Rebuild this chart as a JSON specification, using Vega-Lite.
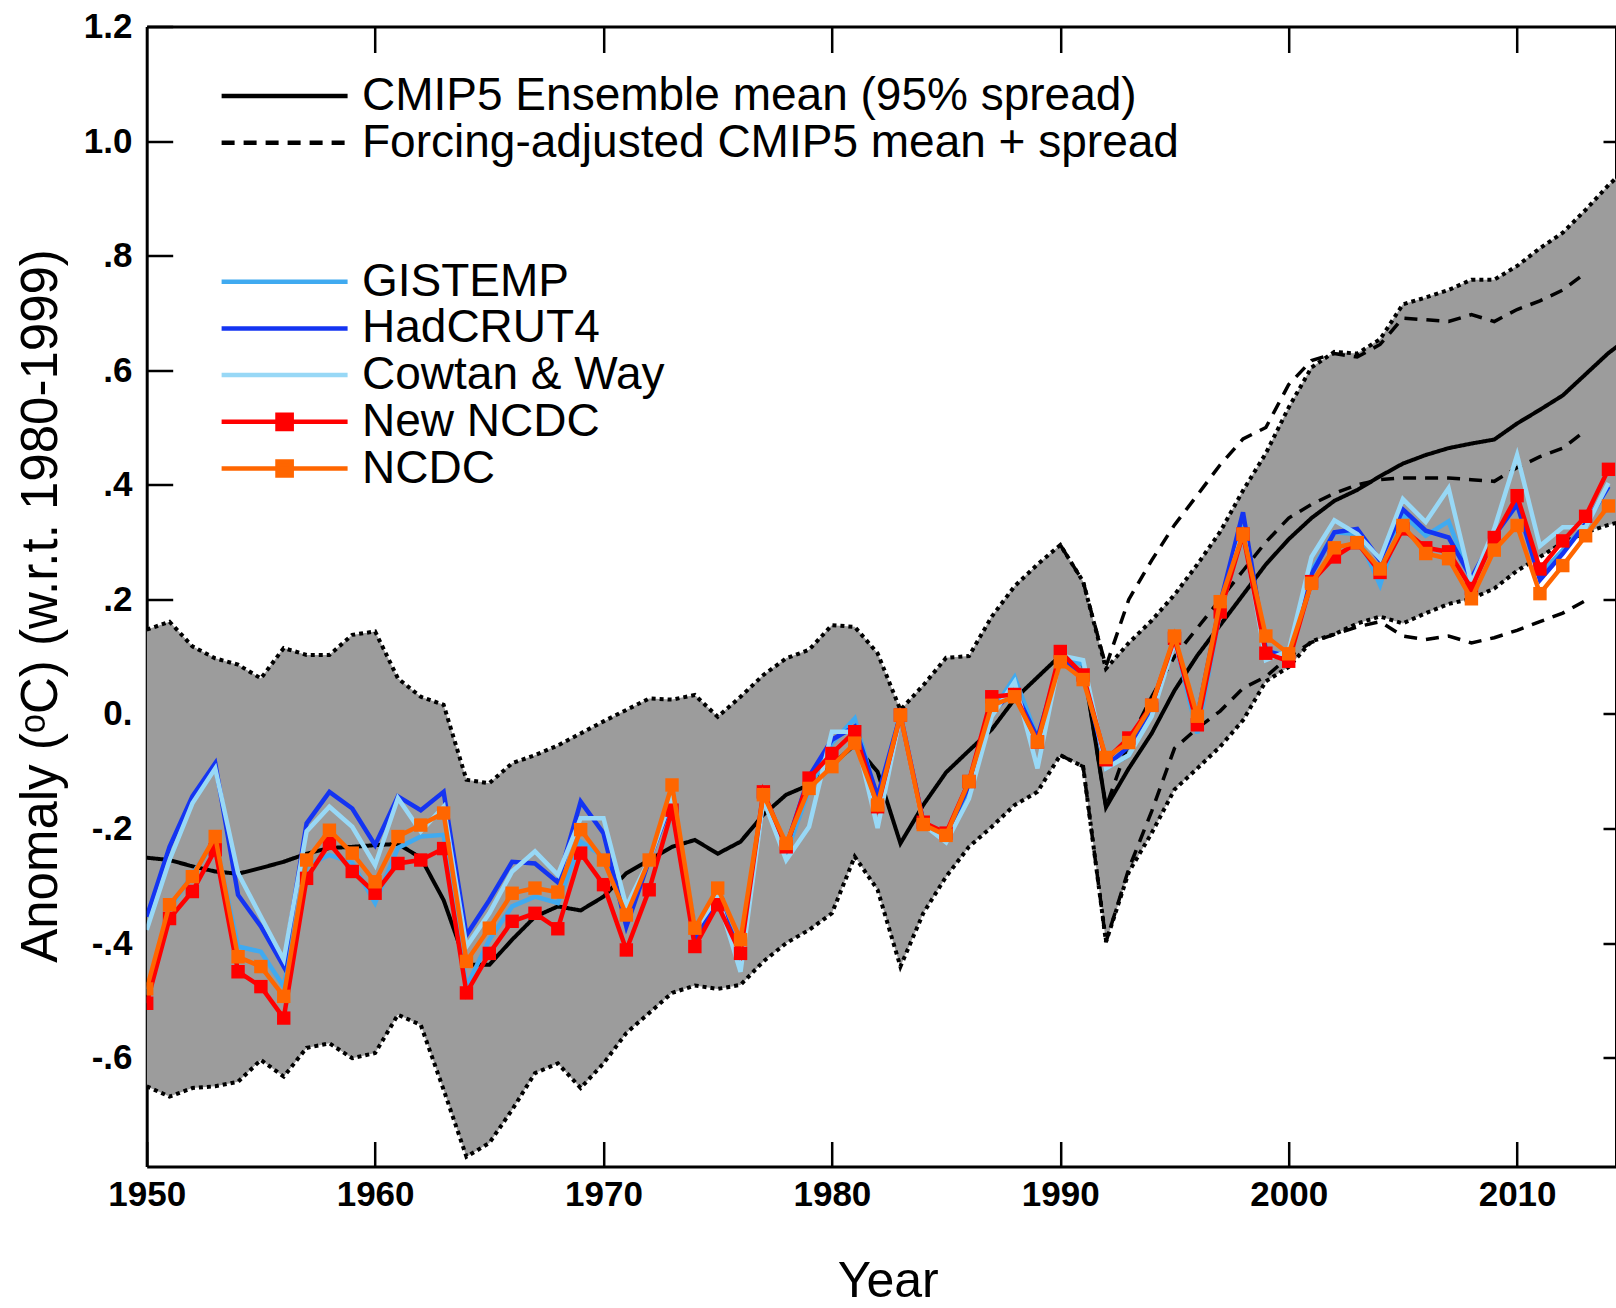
{
  "$schema": "https://vega.github.io/schema/vega-lite/v6.json",
  "autosize": {"type": "none"},
  "padding": {"left": 146.7, "top": 26.5, "right": 0, "bottom": 141.5},
  "width": 1469.3,
  "height": 1140,
  "background": "white",
  "datasets": {
    "model": [
      {"year": 1950, "mean": -0.251, "lo": -0.650, "hi": 0.147},
      {"year": 1951, "mean": -0.255, "lo": -0.668, "hi": 0.161},
      {"year": 1952, "mean": -0.266, "lo": -0.653, "hi": 0.118},
      {"year": 1953, "mean": -0.275, "lo": -0.650, "hi": 0.097},
      {"year": 1954, "mean": -0.279, "lo": -0.642, "hi": 0.086},
      {"year": 1955, "mean": -0.269, "lo": -0.604, "hi": 0.062},
      {"year": 1956, "mean": -0.258, "lo": -0.633, "hi": 0.115},
      {"year": 1957, "mean": -0.244, "lo": -0.583, "hi": 0.103},
      {"year": 1958, "mean": -0.234, "lo": -0.575, "hi": 0.103},
      {"year": 1959, "mean": -0.232, "lo": -0.601, "hi": 0.138},
      {"year": 1960, "mean": -0.229, "lo": -0.592, "hi": 0.144},
      {"year": 1961, "mean": -0.227, "lo": -0.525, "hi": 0.062},
      {"year": 1962, "mean": -0.251, "lo": -0.543, "hi": 0.030},
      {"year": 1963, "mean": -0.325, "lo": -0.656, "hi": 0.016},
      {"year": 1964, "mean": -0.438, "lo": -0.773, "hi": -0.115},
      {"year": 1965, "mean": -0.438, "lo": -0.749, "hi": -0.121},
      {"year": 1966, "mean": -0.394, "lo": -0.691, "hi": -0.086},
      {"year": 1967, "mean": -0.354, "lo": -0.627, "hi": -0.072},
      {"year": 1968, "mean": -0.336, "lo": -0.610, "hi": -0.055},
      {"year": 1969, "mean": -0.343, "lo": -0.653, "hi": -0.034},
      {"year": 1970, "mean": -0.319, "lo": -0.610, "hi": -0.013},
      {"year": 1971, "mean": -0.278, "lo": -0.557, "hi": 0.007},
      {"year": 1972, "mean": -0.255, "lo": -0.522, "hi": 0.027},
      {"year": 1973, "mean": -0.232, "lo": -0.487, "hi": 0.025},
      {"year": 1974, "mean": -0.220, "lo": -0.474, "hi": 0.033},
      {"year": 1975, "mean": -0.244, "lo": -0.480, "hi": -0.005},
      {"year": 1976, "mean": -0.223, "lo": -0.473, "hi": 0.030},
      {"year": 1977, "mean": -0.176, "lo": -0.432, "hi": 0.068},
      {"year": 1978, "mean": -0.141, "lo": -0.400, "hi": 0.097},
      {"year": 1979, "mean": -0.124, "lo": -0.377, "hi": 0.112},
      {"year": 1980, "mean": -0.089, "lo": -0.348, "hi": 0.155},
      {"year": 1981, "mean": -0.054, "lo": -0.249, "hi": 0.152},
      {"year": 1982, "mean": -0.101, "lo": -0.307, "hi": 0.106},
      {"year": 1983, "mean": -0.226, "lo": -0.441, "hi": 0.007},
      {"year": 1984, "mean": -0.159, "lo": -0.348, "hi": 0.050},
      {"year": 1985, "mean": -0.102, "lo": -0.284, "hi": 0.098},
      {"year": 1986, "mean": -0.064, "lo": -0.232, "hi": 0.101},
      {"year": 1987, "mean": -0.027, "lo": -0.197, "hi": 0.170},
      {"year": 1988, "mean": 0.026, "lo": -0.159, "hi": 0.223},
      {"year": 1989, "mean": 0.064, "lo": -0.136, "hi": 0.261},
      {"year": 1990, "mean": 0.102, "lo": -0.072, "hi": 0.295},
      {"year": 1991, "mean": 0.087, "lo": -0.092, "hi": 0.231},
      {"year": 1992, "mean": -0.163, "lo": -0.398, "hi": 0.079},
      {"year": 1993, "mean": -0.095, "lo": -0.276, "hi": 0.124},
      {"year": 1994, "mean": -0.034, "lo": -0.208, "hi": 0.163},
      {"year": 1995, "mean": 0.041, "lo": -0.132, "hi": 0.208},
      {"year": 1996, "mean": 0.102, "lo": -0.095, "hi": 0.261},
      {"year": 1997, "mean": 0.155, "lo": -0.057, "hi": 0.318},
      {"year": 1998, "mean": 0.208, "lo": -0.011, "hi": 0.390},
      {"year": 1999, "mean": 0.261, "lo": 0.057, "hi": 0.455},
      {"year": 2000, "mean": 0.305, "lo": 0.082, "hi": 0.535},
      {"year": 2001, "mean": 0.342, "lo": 0.127, "hi": 0.605},
      {"year": 2002, "mean": 0.372, "lo": 0.139, "hi": 0.632},
      {"year": 2003, "mean": 0.391, "lo": 0.158, "hi": 0.629},
      {"year": 2004, "mean": 0.415, "lo": 0.170, "hi": 0.654},
      {"year": 2005, "mean": 0.437, "lo": 0.158, "hi": 0.715},
      {"year": 2006, "mean": 0.452, "lo": 0.176, "hi": 0.727},
      {"year": 2007, "mean": 0.464, "lo": 0.192, "hi": 0.740},
      {"year": 2008, "mean": 0.472, "lo": 0.201, "hi": 0.758},
      {"year": 2009, "mean": 0.479, "lo": 0.219, "hi": 0.758},
      {"year": 2010, "mean": 0.507, "lo": 0.250, "hi": 0.782},
      {"year": 2011, "mean": 0.531, "lo": 0.274, "hi": 0.813},
      {"year": 2012, "mean": 0.556, "lo": 0.299, "hi": 0.840},
      {"year": 2013, "mean": 0.593, "lo": 0.317, "hi": 0.880},
      {"year": 2014, "mean": 0.630, "lo": 0.330, "hi": 0.923},
      {"year": 2015, "mean": 0.660, "lo": 0.340, "hi": 0.960}
    ],
    "fadj": [
      {"year": 1990, "fu": 0.295, "fm": 0.102, "fl": -0.072},
      {"year": 1991, "fu": 0.231, "fm": 0.087, "fl": -0.092},
      {"year": 1992, "fu": 0.083, "fm": -0.163, "fl": -0.398},
      {"year": 1993, "fu": 0.200, "fm": -0.050, "fl": -0.270},
      {"year": 1994, "fu": 0.268, "fm": 0.030, "fl": -0.170},
      {"year": 1995, "fu": 0.330, "fm": 0.100, "fl": -0.060},
      {"year": 1996, "fu": 0.382, "fm": 0.150, "fl": -0.025},
      {"year": 1997, "fu": 0.435, "fm": 0.200, "fl": 0.005},
      {"year": 1998, "fu": 0.480, "fm": 0.250, "fl": 0.045},
      {"year": 1999, "fu": 0.500, "fm": 0.300, "fl": 0.065},
      {"year": 2000, "fu": 0.575, "fm": 0.342, "fl": 0.100},
      {"year": 2001, "fu": 0.617, "fm": 0.366, "fl": 0.125},
      {"year": 2002, "fu": 0.629, "fm": 0.385, "fl": 0.139},
      {"year": 2003, "fu": 0.623, "fm": 0.400, "fl": 0.152},
      {"year": 2004, "fu": 0.645, "fm": 0.409, "fl": 0.161},
      {"year": 2005, "fu": 0.691, "fm": 0.412, "fl": 0.136},
      {"year": 2006, "fu": 0.688, "fm": 0.412, "fl": 0.130},
      {"year": 2007, "fu": 0.685, "fm": 0.412, "fl": 0.136},
      {"year": 2008, "fu": 0.697, "fm": 0.409, "fl": 0.124},
      {"year": 2009, "fu": 0.685, "fm": 0.406, "fl": 0.133},
      {"year": 2010, "fu": 0.706, "fm": 0.430, "fl": 0.146},
      {"year": 2011, "fu": 0.721, "fm": 0.449, "fl": 0.161},
      {"year": 2012, "fu": 0.740, "fm": 0.464, "fl": 0.176},
      {"year": 2013, "fu": 0.770, "fm": 0.495, "fl": 0.198}
    ],
    "obs": [
      {"year": 1950, "gistemp": -0.490, "hadcrut4": -0.354, "cowtan": -0.377, "newncdc": -0.505, "ncdc": -0.480},
      {"year": 1951, "gistemp": -0.340, "hadcrut4": -0.232, "cowtan": -0.255, "newncdc": -0.357, "ncdc": -0.333},
      {"year": 1952, "gistemp": -0.280, "hadcrut4": -0.144, "cowtan": -0.156, "newncdc": -0.310, "ncdc": -0.284},
      {"year": 1953, "gistemp": -0.220, "hadcrut4": -0.086, "cowtan": -0.095, "newncdc": -0.237, "ncdc": -0.214},
      {"year": 1954, "gistemp": -0.406, "hadcrut4": -0.316, "cowtan": -0.278, "newncdc": -0.450, "ncdc": -0.424},
      {"year": 1955, "gistemp": -0.415, "hadcrut4": -0.371, "cowtan": -0.354, "newncdc": -0.476, "ncdc": -0.441},
      {"year": 1956, "gistemp": -0.476, "hadcrut4": -0.441, "cowtan": -0.429, "newncdc": -0.531, "ncdc": -0.493},
      {"year": 1957, "gistemp": -0.266, "hadcrut4": -0.191, "cowtan": -0.205, "newncdc": -0.287, "ncdc": -0.255},
      {"year": 1958, "gistemp": -0.246, "hadcrut4": -0.136, "cowtan": -0.162, "newncdc": -0.226, "ncdc": -0.203},
      {"year": 1959, "gistemp": -0.260, "hadcrut4": -0.165, "cowtan": -0.197, "newncdc": -0.275, "ncdc": -0.243},
      {"year": 1960, "gistemp": -0.330, "hadcrut4": -0.229, "cowtan": -0.264, "newncdc": -0.313, "ncdc": -0.293},
      {"year": 1961, "gistemp": -0.234, "hadcrut4": -0.144, "cowtan": -0.147, "newncdc": -0.261, "ncdc": -0.214},
      {"year": 1962, "gistemp": -0.214, "hadcrut4": -0.168, "cowtan": -0.205, "newncdc": -0.255, "ncdc": -0.194},
      {"year": 1963, "gistemp": -0.211, "hadcrut4": -0.136, "cowtan": -0.162, "newncdc": -0.235, "ncdc": -0.173},
      {"year": 1964, "gistemp": -0.476, "hadcrut4": -0.386, "cowtan": -0.406, "newncdc": -0.487, "ncdc": -0.432},
      {"year": 1965, "gistemp": -0.394, "hadcrut4": -0.325, "cowtan": -0.348, "newncdc": -0.418, "ncdc": -0.374},
      {"year": 1966, "gistemp": -0.336, "hadcrut4": -0.258, "cowtan": -0.275, "newncdc": -0.362, "ncdc": -0.313},
      {"year": 1967, "gistemp": -0.319, "hadcrut4": -0.261, "cowtan": -0.240, "newncdc": -0.348, "ncdc": -0.304},
      {"year": 1968, "gistemp": -0.330, "hadcrut4": -0.294, "cowtan": -0.281, "newncdc": -0.375, "ncdc": -0.311},
      {"year": 1969, "gistemp": -0.223, "hadcrut4": -0.153, "cowtan": -0.182, "newncdc": -0.243, "ncdc": -0.202},
      {"year": 1970, "gistemp": -0.249, "hadcrut4": -0.208, "cowtan": -0.182, "newncdc": -0.298, "ncdc": -0.255},
      {"year": 1971, "gistemp": -0.354, "hadcrut4": -0.371, "cowtan": -0.336, "newncdc": -0.412, "ncdc": -0.351},
      {"year": 1972, "gistemp": -0.255, "hadcrut4": -0.255, "cowtan": -0.255, "newncdc": -0.307, "ncdc": -0.255},
      {"year": 1973, "gistemp": -0.144, "hadcrut4": -0.150, "cowtan": -0.144, "newncdc": -0.168, "ncdc": -0.124},
      {"year": 1974, "gistemp": -0.371, "hadcrut4": -0.395, "cowtan": -0.377, "newncdc": -0.406, "ncdc": -0.374},
      {"year": 1975, "gistemp": -0.319, "hadcrut4": -0.325, "cowtan": -0.319, "newncdc": -0.333, "ncdc": -0.304},
      {"year": 1976, "gistemp": -0.435, "hadcrut4": -0.418, "cowtan": -0.450, "newncdc": -0.418, "ncdc": -0.394},
      {"year": 1977, "gistemp": -0.144, "hadcrut4": -0.150, "cowtan": -0.150, "newncdc": -0.136, "ncdc": -0.141},
      {"year": 1978, "gistemp": -0.243, "hadcrut4": -0.232, "cowtan": -0.255, "newncdc": -0.232, "ncdc": -0.226},
      {"year": 1979, "gistemp": -0.133, "hadcrut4": -0.109, "cowtan": -0.197, "newncdc": -0.112, "ncdc": -0.130},
      {"year": 1980, "gistemp": -0.051, "hadcrut4": -0.045, "cowtan": -0.031, "newncdc": -0.069, "ncdc": -0.092},
      {"year": 1981, "gistemp": -0.008, "hadcrut4": -0.022, "cowtan": -0.031, "newncdc": -0.031, "ncdc": -0.051},
      {"year": 1982, "gistemp": -0.150, "hadcrut4": -0.144, "cowtan": -0.199, "newncdc": -0.162, "ncdc": -0.159},
      {"year": 1983, "gistemp": 0.000, "hadcrut4": -0.002, "cowtan": -0.002, "newncdc": -0.002, "ncdc": -0.002},
      {"year": 1984, "gistemp": -0.190, "hadcrut4": -0.189, "cowtan": -0.193, "newncdc": -0.189, "ncdc": -0.193},
      {"year": 1985, "gistemp": -0.210, "hadcrut4": -0.212, "cowtan": -0.224, "newncdc": -0.208, "ncdc": -0.212},
      {"year": 1986, "gistemp": -0.133, "hadcrut4": -0.125, "cowtan": -0.148, "newncdc": -0.118, "ncdc": -0.118},
      {"year": 1987, "gistemp": 0.003, "hadcrut4": 0.003, "cowtan": -0.004, "newncdc": 0.030, "ncdc": 0.015},
      {"year": 1988, "gistemp": 0.064, "hadcrut4": 0.041, "cowtan": 0.056, "newncdc": 0.034, "ncdc": 0.030},
      {"year": 1989, "gistemp": -0.042, "hadcrut4": -0.042, "cowtan": -0.095, "newncdc": -0.049, "ncdc": -0.049},
      {"year": 1990, "gistemp": 0.098, "hadcrut4": 0.094, "cowtan": 0.102, "newncdc": 0.109, "ncdc": 0.091},
      {"year": 1991, "gistemp": 0.087, "hadcrut4": 0.072, "cowtan": 0.094, "newncdc": 0.068, "ncdc": 0.060},
      {"year": 1992, "gistemp": -0.095, "hadcrut4": -0.091, "cowtan": -0.095, "newncdc": -0.080, "ncdc": -0.076},
      {"year": 1993, "gistemp": -0.072, "hadcrut4": -0.057, "cowtan": -0.072, "newncdc": -0.042, "ncdc": -0.050},
      {"year": 1994, "gistemp": 0.003, "hadcrut4": 0.011, "cowtan": -0.004, "newncdc": 0.015, "ncdc": 0.015},
      {"year": 1995, "gistemp": 0.132, "hadcrut4": 0.125, "cowtan": 0.125, "newncdc": 0.132, "ncdc": 0.136},
      {"year": 1996, "gistemp": -0.034, "hadcrut4": -0.004, "cowtan": -0.004, "newncdc": -0.019, "ncdc": -0.004},
      {"year": 1997, "gistemp": 0.178, "hadcrut4": 0.193, "cowtan": 0.178, "newncdc": 0.178, "ncdc": 0.196},
      {"year": 1998, "gistemp": 0.329, "hadcrut4": 0.352, "cowtan": 0.321, "newncdc": 0.314, "ncdc": 0.314},
      {"year": 1999, "gistemp": 0.110, "hadcrut4": 0.110, "cowtan": 0.094, "newncdc": 0.106, "ncdc": 0.136},
      {"year": 2000, "gistemp": 0.102, "hadcrut4": 0.100, "cowtan": 0.110, "newncdc": 0.092, "ncdc": 0.105},
      {"year": 2001, "gistemp": 0.250, "hadcrut4": 0.244, "cowtan": 0.274, "newncdc": 0.231, "ncdc": 0.228},
      {"year": 2002, "gistemp": 0.317, "hadcrut4": 0.317, "cowtan": 0.338, "newncdc": 0.274, "ncdc": 0.290},
      {"year": 2003, "gistemp": 0.314, "hadcrut4": 0.323, "cowtan": 0.314, "newncdc": 0.299, "ncdc": 0.299},
      {"year": 2004, "gistemp": 0.225, "hadcrut4": 0.268, "cowtan": 0.271, "newncdc": 0.247, "ncdc": 0.253},
      {"year": 2005, "gistemp": 0.348, "hadcrut4": 0.357, "cowtan": 0.375, "newncdc": 0.323, "ncdc": 0.329},
      {"year": 2006, "gistemp": 0.311, "hadcrut4": 0.320, "cowtan": 0.335, "newncdc": 0.290, "ncdc": 0.280},
      {"year": 2007, "gistemp": 0.336, "hadcrut4": 0.308, "cowtan": 0.394, "newncdc": 0.283, "ncdc": 0.271},
      {"year": 2008, "gistemp": 0.231, "hadcrut4": 0.237, "cowtan": 0.228, "newncdc": 0.219, "ncdc": 0.201},
      {"year": 2009, "gistemp": 0.311, "hadcrut4": 0.311, "cowtan": 0.323, "newncdc": 0.308, "ncdc": 0.286},
      {"year": 2010, "gistemp": 0.366, "hadcrut4": 0.366, "cowtan": 0.452, "newncdc": 0.381, "ncdc": 0.329},
      {"year": 2011, "gistemp": 0.244, "hadcrut4": 0.234, "cowtan": 0.293, "newncdc": 0.253, "ncdc": 0.210},
      {"year": 2012, "gistemp": 0.286, "hadcrut4": 0.280, "cowtan": 0.326, "newncdc": 0.302, "ncdc": 0.259},
      {"year": 2013, "gistemp": 0.329, "hadcrut4": 0.332, "cowtan": 0.326, "newncdc": 0.345, "ncdc": 0.311},
      {"year": 2014, "gistemp": 0.397, "hadcrut4": 0.397, "cowtan": 0.403, "newncdc": 0.427, "ncdc": 0.363}
    ]
  },
  "resolve": {"axis": {"x": "independent", "y": "independent"}},
  "layer": [
    {
      "data": {"name": "model"},
      "mark": {"type": "area", "color": "#9c9c9c", "clip": true},
      "encoding": {
        "x": {"field": "year", "type": "quantitative",
          "scale": {"domain": [1950, 2014.33], "nice": false, "zero": false},
          "axis": {"orient": "bottom", "values": [1950, 1960, 1970, 1980, 1990, 2000, 2010], "format": "d",
            "tickSize": -25, "labelPadding": 64.3, "labelBaseline": "alphabetic", "labelFlush": false,
            "title": "Year", "titleX": 741, "titleY": 130, "titleBaseline": "alphabetic", "titleAlign": "center"}},
        "y": {"field": "lo", "type": "quantitative",
          "scale": {"domain": [-0.79, 1.2], "nice": false, "zero": false},
          "axis": {"orient": "left", "values": [-0.6, -0.4, -0.2, 0, 0.2, 0.4, 0.6, 0.8, 1.0, 1.2],
            "tickSize": -26, "labelPadding": 40.7, "labelFlush": false,
            "labelExpr": "datum.value == 0 ? '0.' : (abs(datum.value) >= 1 ? format(datum.value, '.1f') : ((datum.value < 0 ? '-' : '') + replace(format(abs(datum.value), '.1f'), '0.', '.')))",
            "title": "Anomaly (ᵒC) (w.r.t. 1980-1999)", "titleAngle": -90, "titleX": -90, "titleY": 579,
            "titleFontSize": 51, "titleBaseline": "alphabetic", "titleAlign": "center"}},
        "y2": {"field": "hi"}
      }
    },
    {
      "data": {"name": "model"},
      "mark": {"type": "line", "color": "black", "strokeWidth": 4, "strokeDash": [4, 4], "clip": true},
      "encoding": {
        "x": {"field": "year", "type": "quantitative",
          "scale": {"domain": [1950, 2014.33], "nice": false, "zero": false},
          "axis": {"orient": "top", "values": [1960, 1970, 1980, 1990, 2000, 2010], "tickSize": -26, "labels": false, "title": null}},
        "y": {"field": "hi", "type": "quantitative",
          "scale": {"domain": [-0.79, 1.2], "nice": false, "zero": false},
          "axis": {"orient": "right", "values": [-0.6, -0.4, -0.2, 0, 0.2, 0.4, 0.6, 0.8, 1.0], "tickSize": -13, "labels": false, "title": null}}
      }
    },
    {
      "data": {"name": "model"},
      "mark": {"type": "line", "color": "black", "strokeWidth": 4, "strokeDash": [4, 4], "clip": true},
      "encoding": {
        "x": {"field": "year", "type": "quantitative", "axis": null},
        "y": {"field": "lo", "type": "quantitative", "axis": null}
      }
    },
    {
      "data": {"name": "model"},
      "mark": {"type": "line", "color": "black", "strokeWidth": 4, "clip": true},
      "encoding": {
        "x": {"field": "year", "type": "quantitative", "axis": null},
        "y": {"field": "mean", "type": "quantitative", "axis": null},
        "strokeDash": {"datum": "CMIP5 Ensemble mean (95% spread)", "type": "nominal",
          "scale": {"domain": ["CMIP5 Ensemble mean (95% spread)", "Forcing-adjusted CMIP5 mean + spread"], "range": [[1, 0], [13, 9]]},
          "legend": {"title": null, "legendX": 74.9, "legendY": 46.5, "symbolStrokeColor": "black"}}
      }
    },
    {
      "data": {"name": "fadj"},
      "mark": {"type": "line", "color": "black", "strokeWidth": 3.5, "clip": true},
      "encoding": {
        "x": {"field": "year", "type": "quantitative", "axis": null},
        "y": {"field": "fu", "type": "quantitative", "axis": null},
        "strokeDash": {"datum": "Forcing-adjusted CMIP5 mean + spread", "type": "nominal"}
      }
    },
    {
      "data": {"name": "fadj"},
      "mark": {"type": "line", "color": "black", "strokeWidth": 3.5, "clip": true},
      "encoding": {
        "x": {"field": "year", "type": "quantitative", "axis": null},
        "y": {"field": "fm", "type": "quantitative", "axis": null},
        "strokeDash": {"datum": "Forcing-adjusted CMIP5 mean + spread", "type": "nominal"}
      }
    },
    {
      "data": {"name": "fadj"},
      "mark": {"type": "line", "color": "black", "strokeWidth": 3.5, "clip": true},
      "encoding": {
        "x": {"field": "year", "type": "quantitative", "axis": null},
        "y": {"field": "fl", "type": "quantitative", "axis": null},
        "strokeDash": {"datum": "Forcing-adjusted CMIP5 mean + spread", "type": "nominal"}
      }
    },
    {
      "data": {"name": "obs"},
      "mark": {"type": "line", "strokeWidth": 4.5, "clip": true},
      "encoding": {
        "x": {"field": "year", "type": "quantitative", "axis": null},
        "y": {"field": "gistemp", "type": "quantitative", "axis": null},
        "color": {"datum": "GISTEMP", "type": "nominal",
          "scale": {"domain": ["GISTEMP", "HadCRUT4", "Cowtan & Way", "New NCDC", "NCDC"],
                    "range": ["#40aaf0", "#1434f2", "#98d8f6", "#ff0000", "#ff6600"]},
          "legend": {"title": null, "legendX": 74.9, "legendY": 232.2,
            "encode": {"symbols": {"update": {
              "shape": {"signal": "(datum.value === 'New NCDC' || datum.value === 'NCDC') ? 'M-8,0L8,0M-0.9,-0.9L0.9,-0.9L0.9,0.9L-0.9,0.9Z' : 'M-8,0L8,0'"},
              "fill": {"signal": "scale('color', datum.value)"}}}}}}
      }
    },
    {
      "data": {"name": "obs"},
      "mark": {"type": "line", "strokeWidth": 4.5, "clip": true},
      "encoding": {
        "x": {"field": "year", "type": "quantitative", "axis": null},
        "y": {"field": "hadcrut4", "type": "quantitative", "axis": null},
        "color": {"datum": "HadCRUT4", "type": "nominal"}
      }
    },
    {
      "data": {"name": "obs"},
      "mark": {"type": "line", "strokeWidth": 4.5, "clip": true},
      "encoding": {
        "x": {"field": "year", "type": "quantitative", "axis": null},
        "y": {"field": "cowtan", "type": "quantitative", "axis": null},
        "color": {"datum": "Cowtan & Way", "type": "nominal"}
      }
    },
    {
      "data": {"name": "obs"},
      "mark": {"type": "line", "strokeWidth": 4.5, "clip": true},
      "encoding": {
        "x": {"field": "year", "type": "quantitative", "axis": null},
        "y": {"field": "newncdc", "type": "quantitative", "axis": null},
        "color": {"datum": "New NCDC", "type": "nominal"}
      }
    },
    {
      "data": {"name": "obs"},
      "mark": {"type": "square", "color": "#ff0000", "size": 180, "opacity": 1, "filled": true, "clip": true},
      "encoding": {
        "x": {"field": "year", "type": "quantitative", "axis": null},
        "y": {"field": "newncdc", "type": "quantitative", "axis": null}
      }
    },
    {
      "data": {"name": "obs"},
      "mark": {"type": "line", "strokeWidth": 4.5, "clip": true},
      "encoding": {
        "x": {"field": "year", "type": "quantitative", "axis": null},
        "y": {"field": "ncdc", "type": "quantitative", "axis": null},
        "color": {"datum": "NCDC", "type": "nominal"}
      }
    },
    {
      "data": {"name": "obs"},
      "mark": {"type": "square", "color": "#ff6600", "size": 180, "opacity": 1, "filled": true, "clip": true},
      "encoding": {
        "x": {"field": "year", "type": "quantitative", "axis": null},
        "y": {"field": "ncdc", "type": "quantitative", "axis": null}
      }
    }
  ],
  "config": {
    "view": {"stroke": null},
    "axis": {
      "grid": false,
      "domainColor": "black", "domainWidth": 3,
      "tickColor": "black", "tickWidth": 2.5,
      "labelColor": "black", "labelFont": "Liberation Sans, Arial, sans-serif",
      "labelFontSize": 35, "labelFontWeight": "bold",
      "titleColor": "black", "titleFont": "Liberation Sans, Arial, sans-serif", "titleFontSize": 50, "titleFontWeight": "normal"
    },
    "legend": {
      "orient": "none", "padding": 0,
      "symbolType": "M-8,0L8,0", "symbolSize": 248, "symbolStrokeWidth": 4.5, "symbolOffset": 40,
      "labelOffset": 54.4, "labelFont": "Liberation Sans, Arial, sans-serif", "labelFontSize": 46,
      "labelColor": "black", "labelLimit": 0, "rowPadding": 0.7
    }
  }
}
